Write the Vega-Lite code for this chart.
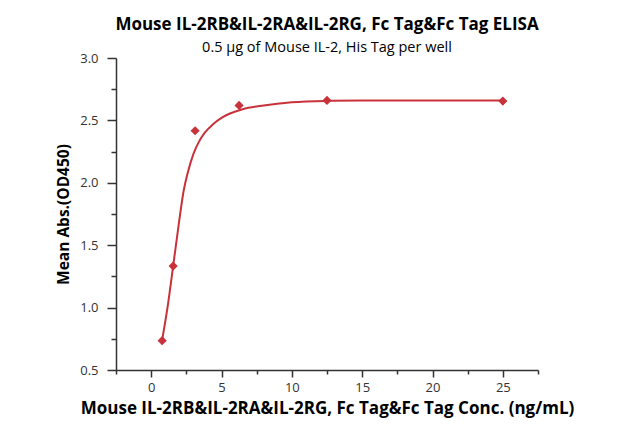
{
  "$schema": "https://vega.github.io/schema/vega-lite/v6.json",
  "width": 422,
  "height": 312,
  "autosize": "none",
  "padding": {"left": 116, "top": 58, "right": 81, "bottom": 63},
  "background": "white",
  "config": {"view": {"stroke": null}, "font": "Open Sans"},
  "title": {
    "text": "Mouse IL-2RB&IL-2RA&IL-2RG, Fc Tag&Fc Tag ELISA",
    "subtitle": "0.5 µg of Mouse IL-2, His Tag per well",
    "anchor": "middle",
    "frame": "group",
    "offset": -3,
    "font": "Open Sans",
    "fontSize": 17,
    "fontWeight": "bold",
    "color": "#000000",
    "subtitleFont": "Open Sans",
    "subtitleFontSize": 14.5,
    "subtitleColor": "#000000",
    "subtitlePadding": 7
  },
  "datasets": {
    "points": [
      {"conc": 0.78125, "od": 0.735},
      {"conc": 1.5625, "od": 1.333},
      {"conc": 3.125, "od": 2.417},
      {"conc": 6.25, "od": 2.62},
      {"conc": 12.5, "od": 2.66},
      {"conc": 25, "od": 2.655}
    ],
    "curve": [
      {"conc": 0.78, "od": 0.74},
      {"conc": 1.2, "od": 1.03},
      {"conc": 1.56, "od": 1.33},
      {"conc": 2.0, "od": 1.70},
      {"conc": 2.3, "od": 1.93},
      {"conc": 2.6, "od": 2.08},
      {"conc": 3.0, "od": 2.23},
      {"conc": 3.4, "od": 2.33},
      {"conc": 3.8, "od": 2.40},
      {"conc": 4.4, "od": 2.47},
      {"conc": 5.0, "od": 2.52},
      {"conc": 5.6, "od": 2.555},
      {"conc": 6.5, "od": 2.59},
      {"conc": 8.0, "od": 2.62},
      {"conc": 10.0, "od": 2.645},
      {"conc": 12.7, "od": 2.657},
      {"conc": 15.0, "od": 2.66},
      {"conc": 20.0, "od": 2.66},
      {"conc": 25.0, "od": 2.66}
    ]
  },
  "resolve": {"axis": {"x": "independent", "y": "independent"}},
  "layer": [
    {
      "data": {"name": "curve"},
      "mark": {"type": "line", "color": "#c8323a", "strokeWidth": 2, "interpolate": "monotone"},
      "encoding": {
        "x": {
          "field": "conc",
          "type": "quantitative",
          "scale": {"domain": [-2.5, 27.5], "nice": false, "zero": false},
          "axis": {
            "orient": "bottom",
            "title": null,
            "labels": false,
            "domain": false,
            "grid": false,
            "values": [-2.5, 2.5, 7.5, 12.5, 17.5, 22.5, 27.5],
            "tickColor": "#333333",
            "tickWidth": 1.5,
            "tickSize": 4
          }
        },
        "y": {
          "field": "od",
          "type": "quantitative",
          "scale": {"domain": [0.5, 3.0], "nice": false, "zero": false},
          "axis": {
            "orient": "left",
            "title": null,
            "labels": false,
            "domain": false,
            "grid": false,
            "values": [0.75, 1.25, 1.75, 2.25, 2.75],
            "tickColor": "#333333",
            "tickWidth": 1.5,
            "tickSize": 5
          }
        }
      }
    },
    {
      "data": {"name": "points"},
      "mark": {"type": "point", "shape": "diamond", "filled": true, "color": "#c8323a", "size": 85, "opacity": 1},
      "encoding": {
        "x": {
          "field": "conc",
          "type": "quantitative",
          "scale": {"domain": [-2.5, 27.5], "nice": false, "zero": false},
          "axis": {
            "orient": "bottom",
            "title": "Mouse IL-2RB&IL-2RA&IL-2RG, Fc Tag&Fc Tag Conc. (ng/mL)",
            "values": [0, 5, 10, 15, 20, 25],
            "format": "d",
            "grid": false,
            "domainColor": "#333333",
            "domainWidth": 1.5,
            "tickColor": "#333333",
            "tickWidth": 1.5,
            "tickSize": 7,
            "labelFont": "Open Sans",
            "labelFontSize": 13,
            "labelColor": "#333333",
            "labelPadding": 4,
            "labelFlush": false,
            "titleFont": "Open Sans",
            "titleFontSize": 17,
            "titleFontWeight": "bold",
            "titleColor": "#000000",
            "titlePadding": 6
          }
        },
        "y": {
          "field": "od",
          "type": "quantitative",
          "scale": {"domain": [0.5, 3.0], "nice": false, "zero": false},
          "axis": {
            "orient": "left",
            "title": "Mean Abs.(OD450)",
            "values": [0.5, 1.0, 1.5, 2.0, 2.5, 3.0],
            "format": ".1f",
            "grid": false,
            "domainColor": "#333333",
            "domainWidth": 1.5,
            "tickColor": "#333333",
            "tickWidth": 1.5,
            "tickSize": 9,
            "labelFont": "Open Sans",
            "labelFontSize": 13,
            "labelColor": "#333333",
            "labelPadding": 9,
            "labelFlush": false,
            "titleFont": "Open Sans",
            "titleFontSize": 15.5,
            "titleFontWeight": "bold",
            "titleColor": "#000000",
            "titlePadding": 8
          }
        }
      }
    }
  ]
}
